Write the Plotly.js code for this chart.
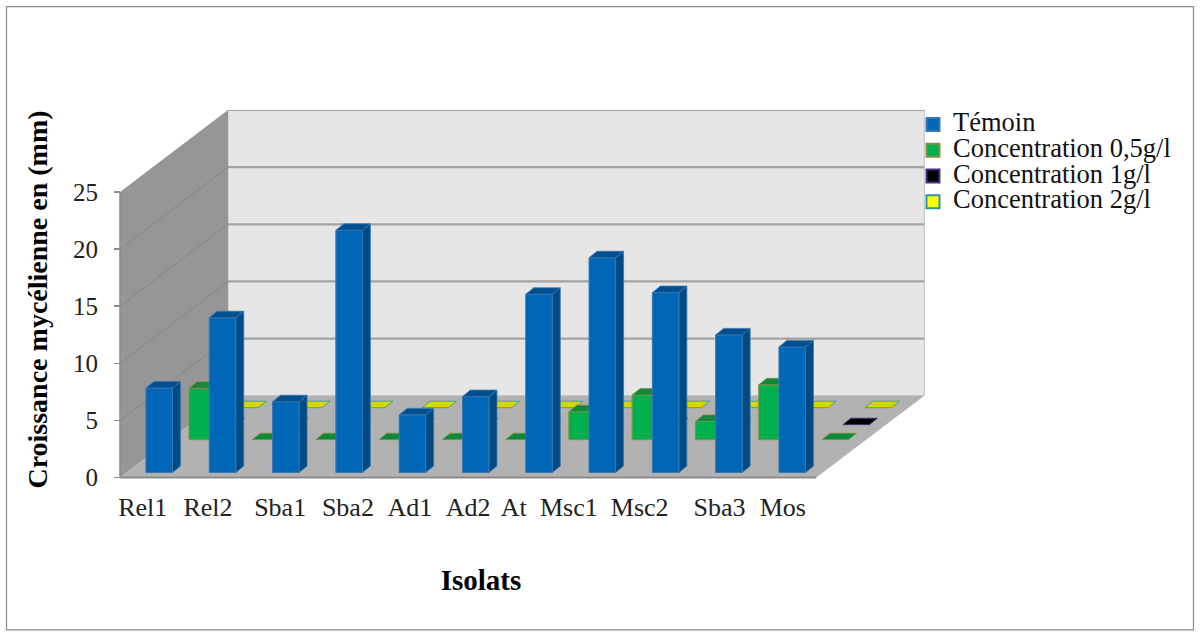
<!DOCTYPE html>
<html><head><meta charset="utf-8">
<script src="https://cdn.plot.ly/plotly-3.0.1.min.js"></script>
<style>html,body{margin:0;padding:0;background:#fff}</style>
</head><body><div id="chart" style="width:1200px;height:637px"></div>
<script>
// ---- data ----
const categories = ['Rel1','Rel2','Sba1','Sba2','Ad1','Ad2','At','Msc1','Msc2','Sba3','Mos'];
const temoin  = [7.4,13.55,6.2,21.2,5.05,6.65,15.6,18.8,15.75,12.05,11.0];
const conc05  = [4.5,0,0,0,0,0,2.45,3.9,1.6,4.8,0];
const conc1   = [0,0,0,0,0,0,0,0,0,0,0];
const conc2   = [0,0,0,0,0,0,0,0,0,0,0];
const yTicks  = [0,5,10,15,20,25];
const labelNudge = [-0.14,-0.11,0.03,0.1,0.08,0,-0.28,-0.41,-0.29,-0.03,-0.03];

// ---- geometry (px of the reference, converted to axis units) ----
const UX = 63.3, UY = 11.44;          // px per category, px per mm
const L = 36, R = 926, T = 110, B = 489.4;  // plot area
const X0 = 120, Y0 = 478;             // front-left corner of the 3D box
const xLo = -0.5 - (X0 - L) / UX, xHi = -0.5 + (R - X0) / UX;
const yLo = -(B - Y0) / UY, yHi = (Y0 - T) / UY;
const wallDX = 108 / UX, wallDY = 82 / UY;
const frontW = 11 ;                   // categories on the front edge
const barW = 26.5 / UX, barDX = 8 / UX, barDY = 6.5 / UY;

const series = [
 {name:'Concentration 2g/l', v:conc2, dx:1.27, lift:6.12, front:'#ffff00', side:'#b5b500', top:'#d6d600', line:'#2f93a8', rank:4},
 {name:'Concentration 1g/l', v:conc1, dx:0.92, lift:4.63, front:'#000000', side:'#000000', top:'#000000', line:'#4d2f80', rank:3},
 {name:'Concentration 0,5g/l', v:conc05, dx:0.59, lift:3.32, front:'#00b04f', side:'#008a3e', top:'#0a8a3a', line:'#8a8f45', rank:2},
 {name:'Témoin', v:temoin, dx:-0.09, lift:0.44, front:'#0066b8', side:'#004a85', top:'#00508f', line:'#3a76ad', rank:1}
];

const traces = [];
series.forEach(s => {
  const fx=[],fy=[],sx=[],sy=[],tx=[],ty=[];
  s.v.forEach((val,i) => {
    const a = i + s.dx, b = a + barW, y0 = s.lift, y1 = s.lift + val;
    if (val > 0) {
      fx.push(a,b,b,a,a,null); fy.push(y0,y0,y1,y1,y0,null);
      sx.push(b,b+barDX,b+barDX,b,b,null); sy.push(y0,y0+barDY,y1+barDY,y1,y0,null);
    }
    tx.push(a,b,b+barDX,a+barDX,a,null); ty.push(y1,y1,y1+barDY,y1+barDY,y1,null);
  });
  const face = (x,y,fill,lw) => ({type:'scatter',mode:'lines',x,y,fill:'toself',fillcolor:fill,
     line:{color:s.line,width:lw},showlegend:false,hoverinfo:'skip',cliponaxis:false});
  if (fx.length) { traces.push(face(sx,sy,s.side,0.8)); traces.push(face(fx,fy,s.front,1)); }
  traces.push(face(tx,ty,s.top,0.8));
  traces.push({type:'scatter',mode:'markers',x:[null],y:[null],
    name:'<span style="font-size:26.5px">'+s.name+'</span>',legendrank:s.rank,
    marker:{symbol:'square',size:13,color:s.front,line:{color:s.line,width:2}},hoverinfo:'skip'});
});

const poly = pts => 'M'+pts.map(p=>p.join(',')).join('L')+'Z';
const lf = -0.5, rt = lf + frontW;
const shapes = [
 {type:'path',layer:'below',xref:'x',yref:'y',fillcolor:'#e6e6e6',line:{color:'#c4c4c4',width:1},
   path:poly([[lf+wallDX,wallDY],[rt+wallDX,wallDY],[rt+wallDX,wallDY+25],[lf+wallDX,wallDY+25]])},
 {type:'path',layer:'below',xref:'x',yref:'y',fillcolor:'#969696',line:{width:0},
   path:poly([[lf,0],[lf+wallDX,wallDY],[lf+wallDX,wallDY+25],[lf,25]])},
 {type:'path',layer:'below',xref:'x',yref:'y',fillcolor:'#b2b2b2',line:{width:0},
   path:poly([[lf,0],[rt,0],[rt+wallDX,wallDY],[lf+wallDX,wallDY]])},
 {type:'line',layer:'below',xref:'x',yref:'y',x0:lf,x1:lf,y0:0,y1:25,line:{color:'#8c8c8c',width:1.5}},
 {type:'line',layer:'below',xref:'x',yref:'y',x0:lf,x1:rt,y0:0,y1:0,line:{color:'#8c8c8c',width:2}},
 {type:'rect',layer:'below',xref:'paper',yref:'paper',
   x0:(6.5-L)/(R-L),x1:(1193.5-L)/(R-L),y0:(B-630.5)/(B-T),y1:(B-6.5)/(B-T),
   line:{color:'#8a8a8a',width:1.2},fillcolor:'rgba(0,0,0,0)'}
];
yTicks.forEach(v => {
  if (v === 0) return;
  shapes.push({type:'line',layer:'below',xref:'x',yref:'y',x0:lf+wallDX,x1:rt+wallDX,y0:v+wallDY,y1:v+wallDY,line:{color:'#a3a3a3',width:2.2}});
  if (v < 25) shapes.push({type:'line',layer:'below',xref:'x',yref:'y',x0:lf,x1:lf+wallDX,y0:v,y1:v+wallDY,line:{color:'#868686',width:1}});
});

const serif = '"Liberation Serif","Times New Roman",serif';
const layout = {
  width:1200,height:637,autosize:false,showlegend:true,
  paper_bgcolor:'#fff',plot_bgcolor:'rgba(0,0,0,0)',
  margin:{l:L,r:1200-R,t:T,b:637-B,pad:0},
  font:{family:serif,color:'#111'},
  xaxis:{range:[xLo,xHi],tickmode:'array',tickvals:categories.map((c,i)=>i+labelNudge[i]),ticktext:categories,
    showgrid:false,zeroline:false,showline:false,ticks:'',ticklabelstandoff:0,tickangle:0,
    tickfont:{family:serif,size:26,color:'#222'},
    title:{text:'<b>Isolats</b>',font:{family:serif,size:29,color:'#000'},standoff:48}},
  yaxis:{range:[yLo,yHi],anchor:'free',position:(X0-L)/(R-L),tickmode:'array',tickvals:yTicks,
    showgrid:false,zeroline:false,showline:false,ticks:'outside',ticklen:6,tickcolor:'#8c8c8c',tickwidth:1.5,ticklabelstandoff:11,
    tickfont:{family:serif,size:25,color:'#222'},
    title:{text:'<b>Croissance mycélienne en (mm)</b>',font:{family:serif,size:28,color:'#000'},standoff:16}},
  legend:{x:(913-L)/(R-L),xanchor:'left',y:(B-106.5)/(B-T),yanchor:'top',bgcolor:'rgba(0,0,0,0)',borderwidth:0,
    font:{family:serif,size:17.5,color:'#111'},itemwidth:30,itemclick:false,itemdoubleclick:false},
  shapes
};
Plotly.newPlot('chart',traces,layout,{displayModeBar:false,staticPlot:true});
</script></body></html>
